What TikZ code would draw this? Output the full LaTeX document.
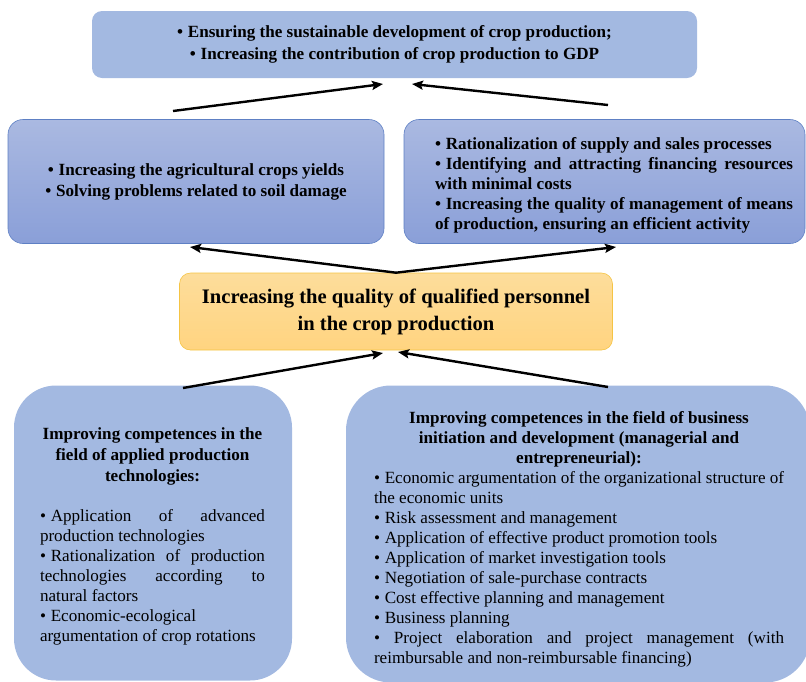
\documentclass[tikz,border=0pt]{standalone}
\usepackage{fontspec}
\setmainfont{Liberation Serif}
\usetikzlibrary{arrows.meta}
\definecolor{boxblue}{HTML}{A3B9E1}
\definecolor{midtop}{HTML}{AAB9E1}
\definecolor{midbot}{HTML}{8A9FD8}
\definecolor{midline}{HTML}{5E80C4}
\definecolor{ortop}{HTML}{FDDD9B}
\definecolor{orbot}{HTML}{FFD480}
\definecolor{orline}{HTML}{F5C444}
\newcommand\bul{•\hspace{0.28em}}
\begin{document}
\begin{tikzpicture}[x=1pt,y=-1pt,
  bluebox/.style={fill=boxblue, draw=none, inner sep=0pt},
  midbox/.style={draw=midline, line width=0.6pt, top color=midtop, bottom color=midbot, rounded corners=15pt, inner sep=0pt},
  orbox/.style={draw=orline, line width=0.6pt, top color=ortop, bottom color=orbot, rounded corners=11pt, inner sep=0pt},
  boldtxt/.style={font=\bfseries\fontsize{17.1}{21}\selectfont},
  plaintxt/.style={font=\fontsize{17.1}{20}\selectfont, inner sep=0pt},
  arr/.style={line width=2.4pt, -{Stealth[length=11pt,width=9pt,inset=2pt]}}
]
\useasboundingbox (0,0) rectangle (806,681);

% top box
\node[bluebox, rounded corners=10pt, minimum width=605pt, minimum height=67pt,
      font=\bfseries\fontsize{17.1}{22}\selectfont, align=center] (top) at (394.5,44.5)
  {\bul Ensuring the sustainable development of crop production;\\ \bul Increasing the contribution of crop production to GDP};

% middle boxes
\node[midbox, minimum width=376pt, minimum height=124pt, boldtxt, align=center] (ml) at (196,181.5)
  {\bul Increasing the agricultural crops yields\\ \bul Solving problems related to soil damage};
\node[midbox, minimum width=401pt, minimum height=124pt] (mr) at (604.5,181.5) {};
\node[font=\bfseries\fontsize{17.1}{20}\selectfont, text width=358pt, align=justify, inner sep=0pt] (mrt) at (614,185)
  {\hyphenpenalty=10000 \bul Rationalization of supply and sales processes\par
   \bul Identifying and attracting financing resources\linebreak with minimal costs\par
   \bul Increasing the quality of management of means\linebreak of production, ensuring an efficient activity};

% orange box
\node[orbox, minimum width=433pt, minimum height=77pt, align=center,
      font=\bfseries\fontsize{20.6}{27}\selectfont] (mid) at (396,311.5)
  {Increasing the quality of qualified personnel\\ in the crop production};

% bottom boxes
\node[bluebox, rounded corners=42pt, minimum width=278pt, minimum height=295pt] (bl) at (153,533) {};
\node[bluebox, rounded corners=45pt, minimum width=464pt, minimum height=297pt] (br) at (578,534) {};

\node[plaintxt, text width=225pt, align=justify, anchor=north] (blt) at (152.5,427)
  {\hyphenpenalty=10000
   {\bfseries\baselineskip=21pt\centering Improving competences in the\\ field of applied production\\ technologies:\par}
   \vskip 20pt
   \bul Application of advanced\linebreak production technologies\par
   \bul Rationalization of production\linebreak technologies according to\linebreak natural factors\par
   \bul Economic-ecological\newline argumentation of crop rotations};

\node[plaintxt, text width=410pt, align=justify, anchor=north] (brt) at (579,411)
  {\hyphenpenalty=10000
   {\bfseries\centering Improving competences in the field of business\\ initiation and development (managerial and\\ entrepreneurial):\par}
   \bul Economic argumentation of the organizational structure of\newline the economic units\par
   \bul Risk assessment and management\par
   \bul Application of effective product promotion tools\par
   \bul Application of market investigation tools\par
   \bul Negotiation of sale-purchase contracts\par
   \bul Cost effective planning and management\par
   \bul Business planning\par
   • Project elaboration and project management (with\linebreak reimbursable and non-reimbursable financing)};

% connector points
\coordinate (a1s) at (173,111);
\coordinate (a1e) at (383,84);
\coordinate (a2s) at (608,105);
\coordinate (a2e) at (412,84);
\coordinate (ml-in) at (190,247);
\coordinate (mr-in) at (616,247);
\coordinate (b1s) at (183,388);
\coordinate (b1e) at (383,353);
\coordinate (b2s) at (608,387);
\coordinate (b2e) at (398,352);

\draw[arr] (a1s) -- (a1e);
\draw[arr] (a2s) -- (a2e);
\draw[arr] (mid.north) -- (ml-in);
\draw[arr] (mid.north) -- (mr-in);
\draw[arr] (b1s) -- (b1e);
\draw[arr] (b2s) -- (b2e);
\end{tikzpicture}
\end{document}
